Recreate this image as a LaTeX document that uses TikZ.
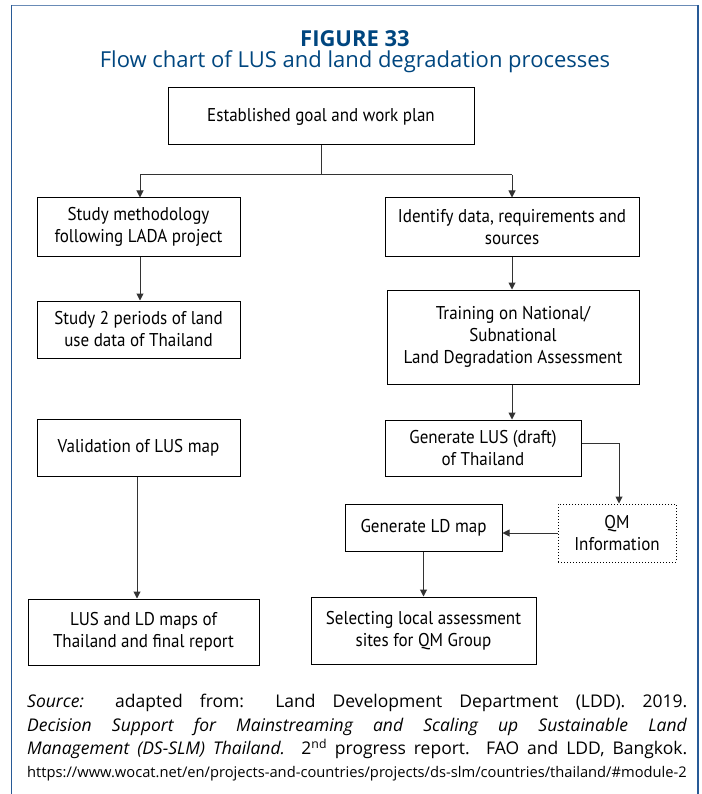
\documentclass[tikz,border=0pt]{standalone}
\usepackage{fontspec}
\setmainfont{Open Sans}
\newfontfamily\boxfont[FakeStretch=0.92]{PT Sans}
\usetikzlibrary{arrows.meta}
\definecolor{titleblue}{RGB}{0,70,127}
\definecolor{frameblue}{RGB}{40,90,150}
\tikzset{
  box/.style={draw=black, line width=1pt, inner sep=0pt, align=center,
    font=\boxfont\fontsize{18.5}{22}\selectfont},
  qmbox/.style={box, dotted},
  arr/.style={draw=black!80, line width=1pt, -{Triangle[width=7pt,length=7pt]}},
  plain/.style={draw=black!80, line width=1pt},
}
\begin{document}
\begin{tikzpicture}[x=1pt,y=-1pt]
\useasboundingbox (0,0) rectangle (701,794);
% frame
\draw[frameblue!70, line width=0.8pt] (11,5) -- (698,5);
\draw[frameblue, line width=0.8pt] (11,5) -- (11,800);
\draw[frameblue, line width=1.6pt] (698,5) -- (698,800);
% titles
\node[text=titleblue, font=\bfseries\fontsize{22}{26}\selectfont, anchor=base] (fig) at (355,46.5) {FIGURE 33};
\node[text=titleblue, font=\fontsize{22}{26}\selectfont, anchor=base] (ttl) at (355,67.5) {Flow chart of LUS and land degradation processes};
% boxes
\node[box, minimum width=306pt, minimum height=57pt] (goal) at (321,116.5) {Established goal and work plan};
\node[box, minimum width=203pt, minimum height=58pt] (s1) at (138.5,227) {Study methodology\\following LADA project};
\node[box, minimum width=203pt, minimum height=57pt] (s2) at (138.5,329.5) {Study 2 periods of land\\use data of Thailand};
\node[box, minimum width=203pt, minimum height=57pt] (val) at (138.5,447.5) {Validation of LUS map};
\node[box, minimum width=231pt, minimum height=66pt] (fin) at (143.5,632) {LUS and LD maps of\\Thailand and final report};
\node[box, minimum width=254pt, minimum height=58pt] (r1) at (512,227) {Identify data, requirements and\\sources};
\node[box, minimum width=252pt, minimum height=94pt] (r2) at (513,337) {Training on National/\\Subnational\\Land Degradation Assessment};
\node[box, minimum width=196pt, minimum height=56pt] (r3) at (483,448) {Generate LUS (draft)\\of Thailand};
\node[qmbox, minimum width=118pt, minimum height=58pt] (qm) at (617,533) {QM\\Information};
\node[box, minimum width=157pt, minimum height=47pt] (ld) at (423.5,527.5) {Generate LD map};
\node[box, minimum width=225pt, minimum height=67pt] (sel) at (423.5,630.5) {Selecting local assessment\\sites for QM Group};
% connectors
\coordinate (jl) at (140,175);
\coordinate (jr) at (512,175);
\draw[plain] (goal.south) -- (goal.south |- jl);
\draw[plain] (jl) -- (jr);
\draw[arr] (jl) -- (jl |- s1.north);
\draw[arr] (jr) -- (jr |- r1.north);
\draw[arr] (s1.south -| jl) -- (jl |- s2.north);
\draw[arr] ([xshift=-1.5pt]val.south) -- ([xshift=-1.5pt]val.south |- fin.north);
\draw[arr] (r1.south) -- (r1.south |- r2.north);
\draw[arr] (r2.south -| r1.south) -- (r1.south |- r3.north);
\draw[arr] ([yshift=5pt]r3.east) -| ([xshift=2pt]qm.north);
\draw[arr] (qm.west) -- (qm.west -| ld.east);
\draw[arr] (ld.south) -- (ld.south |- sel.north);
% source
\node[anchor=north west, inner sep=0pt, text width=660pt, align=justify,
  font=\fontsize{17.5}{23.5}\selectfont] (src) at (27,694)
  {{\parfillskip=0pt \textit{Source:} adapted from: Land Development Department (LDD). 2019.\linebreak
  \textit{Decision Support for Mainstreaming and Scaling up Sustainable Land}\linebreak
  \textit{Management (DS-SLM) Thailand.} 2\textsuperscript{nd} progress report. FAO and LDD, Bangkok.\par}
  {\fontsize{14.7}{23}\selectfont https://www.wocat.net/en/projects-and-countries/projects/ds-slm/countries/thailand/\#module-2\par}};
\end{tikzpicture}
\end{document}
